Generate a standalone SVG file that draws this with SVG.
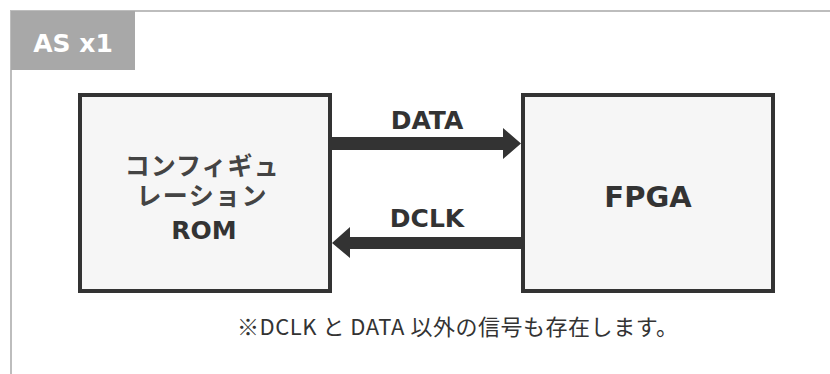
<svg xmlns="http://www.w3.org/2000/svg" width="830" height="374" viewBox="0 0 830 374">
  <style>
    .frame { fill: none; stroke: #bdbdbd; stroke-width: 2; }
    .box { fill: #f6f6f6; stroke: #333333; stroke-width: 4; }
    .lbl { font-family: "DejaVu Sans", "Noto Sans CJK JP", sans-serif; font-weight: bold; fill: #333333; text-anchor: middle; }
    .jp { font-family: "Noto Sans CJK JP", sans-serif; font-weight: bold; fill: #444444; text-anchor: middle; }
    .note { font-family: "Noto Sans CJK JP", sans-serif; fill: #333333; }
    .wire { fill: #333333; }
  </style>

  <rect width="830" height="374" fill="#ffffff"/>

  <!-- outer panel border (top and left edges) -->
  <path class="frame" d="M11 374 V11 H830"/>

  <!-- panel title tab -->
  <g id="title-tab">
    <rect x="11" y="11" width="124" height="59" fill="#a8a8a8"/>
    <text x="73" y="52" font-family="DejaVu Sans, sans-serif" font-weight="bold" font-size="25" fill="#ffffff" text-anchor="middle">AS x1</text>
  </g>

  <!-- configuration ROM (three-line label) -->
  <g id="rom">
    <rect class="box" x="80" y="95" width="250" height="196"/>
    <text class="jp" font-size="25">
      <tspan x="205" y="175" textLength="154" lengthAdjust="spacing">コンフィギュ</tspan>
      <tspan x="205" y="205" textLength="130" lengthAdjust="spacing">レーション</tspan>
      <tspan x="204" y="239" font-family="DejaVu Sans, sans-serif" fill="#333333">ROM</tspan>
    </text>
  </g>

  <!-- FPGA -->
  <g id="fpga">
    <rect class="box" x="523" y="95" width="250" height="196"/>
    <text class="lbl" x="648" y="207" font-size="29">FPGA</text>
  </g>

  <!-- signal connectors -->
  <g id="connectors">
    <!-- DATA: ROM to FPGA -->
    <polygon class="wire" points="332,137 503,137 503,128 521,143.5 503,159 503,150 332,150"/>
    <text class="lbl" x="427" y="129" font-size="25">DATA</text>
    <!-- DCLK: FPGA to ROM -->
    <polygon class="wire" points="521,237 350,237 350,227 332,243 350,258 350,249 521,249"/>
    <text class="lbl" x="427" y="227" font-size="25">DCLK</text>
  </g>

  <!-- footnote -->
  <text class="note" x="237" y="335" font-size="22" textLength="441" lengthAdjust="spacing">※DCLK と DATA 以外の信号も存在します。</text>
</svg>
